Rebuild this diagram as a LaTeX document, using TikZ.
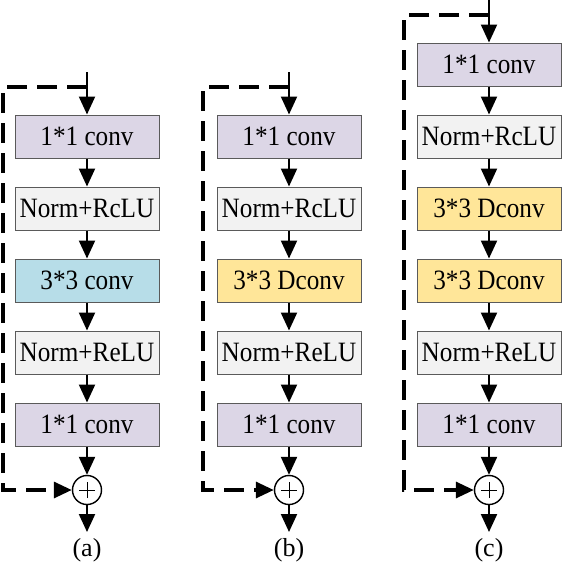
\documentclass[tikz,border=0pt]{standalone}
\usepackage{fontspec}
\setmainfont{Liberation Serif}
\newfontfamily\boxfont{Liberation Serif}[FakeStretch=0.9]
\usetikzlibrary{arrows.meta}
\definecolor{lav}{HTML}{DCD6E6}
\definecolor{gry}{HTML}{F2F2F2}
\definecolor{blu}{HTML}{B7DDE8}
\definecolor{yel}{HTML}{FFE699}
\definecolor{edge}{HTML}{5A5A5A}
\tikzset{
  blk/.style={draw=edge, line width=1pt, minimum width=144pt, minimum height=43pt, inner sep=0pt,
    font=\boxfont\fontsize{28}{30}\selectfont},
  conv/.style={blk, fill=lav},
  norm/.style={blk, fill=gry},
  cnvb/.style={blk, fill=blu},
  dcnv/.style={blk, fill=yel},
  addc/.style={circle, draw=black, line width=1.4pt, fill=white, minimum size=29pt, inner sep=0pt,
    path picture={\draw[line width=0.9pt] ([xshift=-8pt]path picture bounding box.center) -- ([xshift=8pt]path picture bounding box.center);
                  \draw[line width=0.9pt] ([yshift=-8pt]path picture bounding box.center) -- ([yshift=8pt]path picture bounding box.center);}},
  flow/.style={line width=2.2pt, -{Triangle[length=18pt,width=16pt]}},
  skipline/.style={line width=3.2pt, dash pattern=on 20pt off 10pt, -{Triangle[length=18pt,width=16pt]}},
  captxt/.style={font=\fontsize{26}{28}\selectfont}
}
\begin{document}
\begin{tikzpicture}[x=1pt,y=-1pt]
\useasboundingbox (0,0) rectangle (562,562);
% ---------- (a)
\coordinate (a0) at (87,72);
\coordinate (aj) at (87,87);
\coordinate (as1) at (3,87);
\coordinate (as2) at (3,490);
\node[conv] (a1) at (87,136.5) {1*1 conv};
\node[norm] (a2) at (87,208.5) {Norm+RcLU};
\node[cnvb] (a3) at (87,280.5) {3*3 conv};
\node[norm] (a4) at (87,352.5) {Norm+ReLU};
\node[conv] (a5) at (87,424.5) {1*1 conv};
\node[addc] (ap) at (87,490) {};
\coordinate (ae) at (87,532);
\node[captxt] (al) at (87,550) {(a)};
\draw[flow] (a0) -- (a1);
\draw[flow] (a1) -- (a2);
\draw[flow] (a2) -- (a3);
\draw[flow] (a3) -- (a4);
\draw[flow] (a4) -- (a5);
\draw[flow] (a5) -- (ap);
\draw[flow] (ap) -- (ae);
\draw[skipline] (aj) -- (as1) -- (as2) -- (ap);
% ---------- (b)
\coordinate (b0) at (289,72);
\coordinate (bj) at (289,87);
\coordinate (bs1) at (203,87);
\coordinate (bs2) at (203,490);
\node[conv] (b1) at (289,136.5) {1*1 conv};
\node[norm] (b2) at (289,208.5) {Norm+RcLU};
\node[dcnv] (b3) at (289,280.5) {3*3 Dconv};
\node[norm] (b4) at (289,352.5) {Norm+ReLU};
\node[conv] (b5) at (289,424.5) {1*1 conv};
\node[addc] (bp) at (289,490) {};
\coordinate (be) at (289,532);
\node[captxt] (bl) at (289,550) {(b)};
\draw[flow] (b0) -- (b1);
\draw[flow] (b1) -- (b2);
\draw[flow] (b2) -- (b3);
\draw[flow] (b3) -- (b4);
\draw[flow] (b4) -- (b5);
\draw[flow] (b5) -- (bp);
\draw[flow] (bp) -- (be);
\draw[skipline] (bj) -- (bs1) -- (bs2) -- (bp);
% ---------- (c)
\coordinate (c0) at (489,0);
\coordinate (cj) at (489,15);
\coordinate (cs1) at (404,15);
\coordinate (cs2) at (404,490);
\node[conv] (c1) at (489,64.5) {1*1 conv};
\node[norm] (c2) at (489,136.5) {Norm+RcLU};
\node[dcnv] (c3) at (489,208.5) {3*3 Dconv};
\node[dcnv] (c4) at (489,280.5) {3*3 Dconv};
\node[norm] (c5) at (489,352.5) {Norm+ReLU};
\node[conv] (c6) at (489,424.5) {1*1 conv};
\node[addc] (cp) at (489,490) {};
\coordinate (ce) at (489,532);
\node[captxt] (cl) at (489,550) {(c)};
\draw[flow] (c0) -- (c1);
\draw[flow] (c1) -- (c2);
\draw[flow] (c2) -- (c3);
\draw[flow] (c3) -- (c4);
\draw[flow] (c4) -- (c5);
\draw[flow] (c5) -- (c6);
\draw[flow] (c6) -- (cp);
\draw[flow] (cp) -- (ce);
\draw[skipline] (cj) -- (cs1) -- (cs2) -- (cp);
\end{tikzpicture}
\end{document}
